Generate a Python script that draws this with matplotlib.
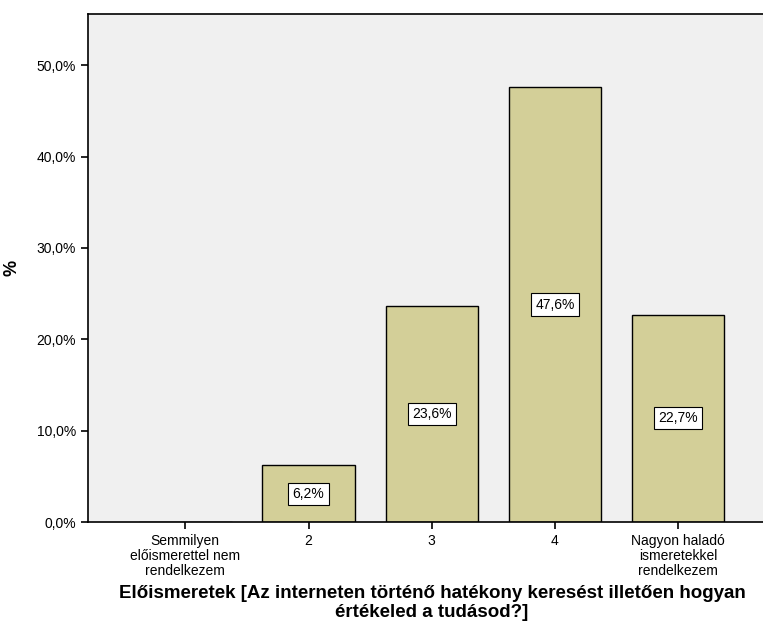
import matplotlib.pyplot as plt
from matplotlib.ticker import FuncFormatter

plt.rcParams['font.family'] = ['Liberation Sans', 'DejaVu Sans']

categories = ['Semmilyen\nelőismerettel nem\nrendelkezem', '2', '3', '4',
              'Nagyon haladó\nismeretekkel\nrendelkezem']
percents = [0.0, 6.2, 23.6, 47.6, 22.7]
value_labels = ['', '6,2%', '23,6%', '47,6%', '22,7%']

fig = plt.figure(figsize=(7.63, 6.22), dpi=100)
ax = fig.add_axes([88 / 763, 100 / 622, 1 - 88 / 763 + 0.005, 508 / 622])
ax.set_facecolor('#f0f0f0')

xs = range(len(categories))
bars = ax.bar(xs, percents, width=0.75, color='#d3cf98',
              edgecolor='black', linewidth=1.0, zorder=2)

# labels in white boxes at the middle of each bar
for bar, lab, val in zip(bars, value_labels, percents):
    if not lab:
        continue
    ax.text(bar.get_x() + bar.get_width() / 2, val / 2, lab,
            ha='center', va='center', fontsize=10, zorder=3,
            bbox=dict(boxstyle='square,pad=0.3', fc='white', ec='black', lw=0.8))

ax.set_xlim(-0.79, 4.72)
ax.set_ylim(0, 55.6)
ax.set_xticks(list(xs))
ax.set_xticklabels(categories, fontsize=10, linespacing=1.1)
ax.set_yticks([0, 10, 20, 30, 40, 50])
ax.yaxis.set_major_formatter(FuncFormatter(lambda v, p: f'{v:.1f}%'.replace('.', ',')))
ax.tick_params(axis='both', direction='out', length=5, width=1.2, colors='black',
               labelsize=10)
for s in ax.spines.values():
    s.set_linewidth(1.2)

ax.set_ylabel('%', fontsize=13, fontweight='bold', labelpad=12)
fig.text(432 / 763, 19 / 622,
         'Előismeretek [Az interneten történő hatékony keresést illetően hogyan\n'
         'értékeled a tudásod?]',
         ha='center', va='center', fontsize=13.5, fontweight='bold', linespacing=1.1)

fig.savefig('out.png', dpi=100)
